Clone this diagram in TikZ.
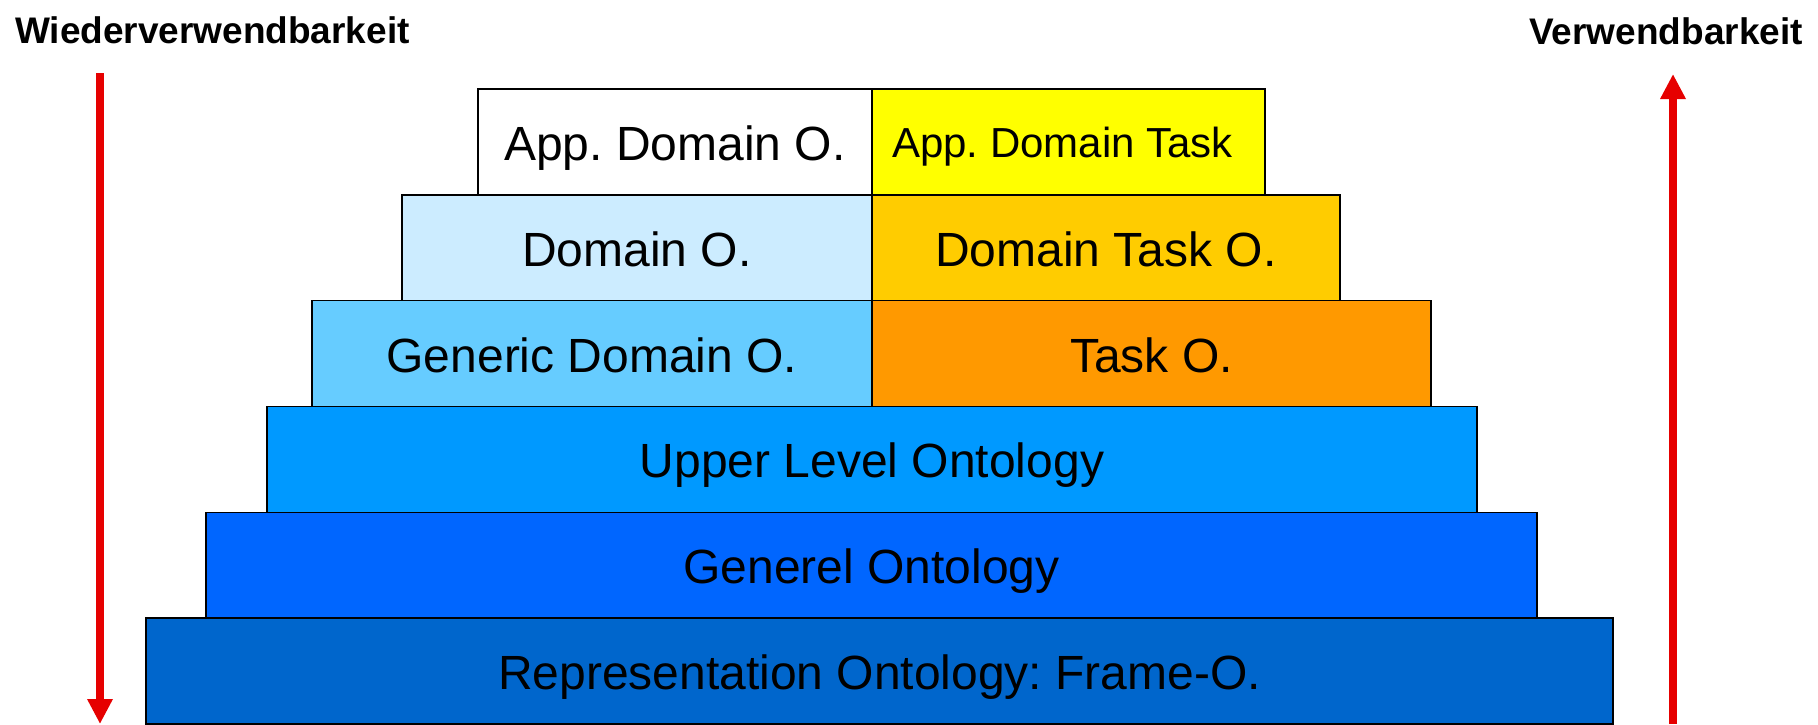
\documentclass[tikz,border=0pt]{standalone}
\usepackage{fontspec}
\setmainfont{Liberation Sans}
\usetikzlibrary{arrows.meta}
\frenchspacing
\definecolor{cWhite}{HTML}{FFFFFF}
\definecolor{cYellow}{HTML}{FFFF00}
\definecolor{cDomain}{HTML}{CCECFF}
\definecolor{cDomTask}{HTML}{FFCC00}
\definecolor{cGeneric}{HTML}{66CCFF}
\definecolor{cTask}{HTML}{FF9900}
\definecolor{cUpper}{HTML}{0099FF}
\definecolor{cGenerel}{HTML}{0066FF}
\definecolor{cRepr}{HTML}{0066CC}
\definecolor{cArrow}{RGB}{230,0,0}
\tikzset{
  layer/.style={draw=black, line width=1.5pt, rectangle, inner sep=0pt, outer sep=0pt,
    minimum height=105.8pt, text height=37pt, text depth=0pt,
    font=\fontsize{48}{48}\selectfont},
  smalllayer/.style={layer, text height=32pt, font=\fontsize{42}{42}\selectfont},
  title/.style={inner sep=0pt, font=\bfseries\fontsize{37}{37}\selectfont},
  axis/.style={draw=cArrow, line width=8pt, -{Triangle[length=25pt,width=24pt]}}
}
\begin{document}
\begin{tikzpicture}[x=1pt,y=-1pt]
\useasboundingbox (0,0) rectangle (1818,724);
% rows
\node[layer, fill=cRepr, minimum width=1467pt] (repr) at (879.5,671.1) {Representation Ontology: Frame-O.};
\node[layer, fill=cGenerel, minimum width=1331pt] (generel) at (871.5,565.3) {Generel Ontology};
\node[layer, fill=cUpper, minimum width=1210pt] (upper) at (872,459.4) {Upper Level Ontology};
\node[layer, fill=cGeneric, minimum width=560pt] (generic) at (592,353.6) {Generic Domain O.};
\node[layer, fill=cTask, minimum width=559pt] (task) at (1151.5,353.6) {Task O.};
\node[layer, fill=cDomain, minimum width=470pt] (domain) at (637,247.8) {Domain O.};
\node[layer, fill=cDomTask, minimum width=468pt] (domtask) at (1106,247.8) {Domain Task O.};
\node[layer, fill=cWhite, minimum width=394pt] (appdom) at (675,141.9) {App. Domain O.};
\node[smalllayer, fill=cYellow, minimum width=393pt] (apptask) at (1068.5,141.9) {\hspace{-12pt}App. Domain Task};
% titles
\node[title, anchor=base west] (reuse) at (15,43) {Wiederverwendbarkeit};
\node[title, anchor=base east] (use) at (1803,44) {Verwendbarkeit};
% arrows
\coordinate (lstart) at (100,73);
\coordinate (lend) at (100,724);
\coordinate (rstart) at (1673,724);
\coordinate (rend) at (1673,74);
\draw[axis] (lstart) -- (lend);
\draw[axis] (rstart) -- (rend);
\end{tikzpicture}
\end{document}
